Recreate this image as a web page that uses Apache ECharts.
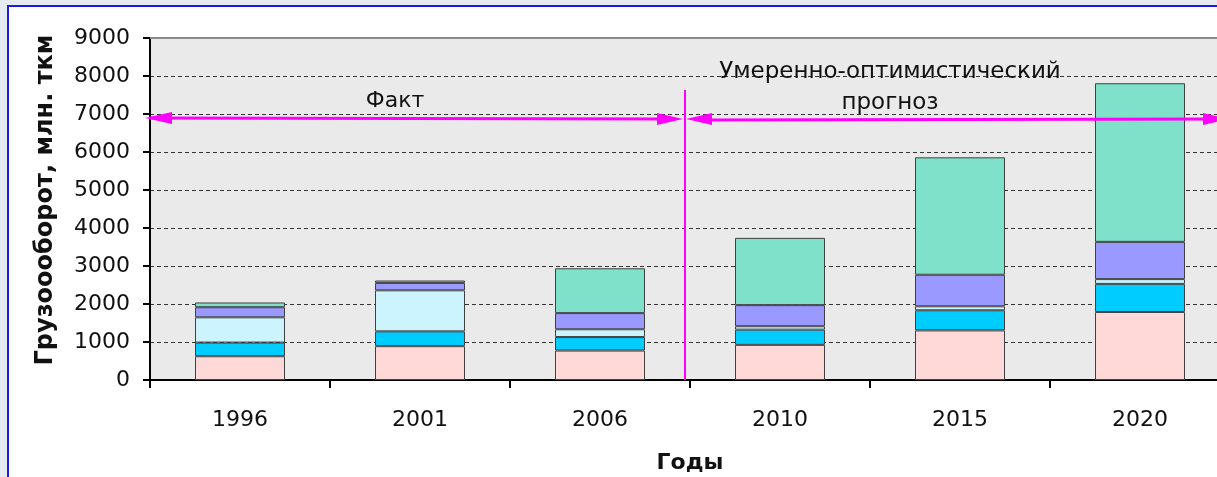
<!DOCTYPE html>
<html>
<head>
<meta charset="utf-8">
<script src="https://cdn.jsdelivr.net/npm/echarts@6/dist/echarts.min.js"></script>
<style>
html,body{margin:0;padding:0;width:1217px;height:477px;overflow:hidden;background:#e6ebf1;}
#frame{position:absolute;left:7px;top:5px;width:1300px;height:600px;border:2px solid #1a1ae6;background:#ffffff;}
#main{position:absolute;left:0;top:0;width:1217px;height:477px;}
</style>
</head>
<body>
<div id="frame"></div>
<div id="main"></div>
<script>
const categories = ['1996', '2001', '2006', '2010', '2015', '2020'];
const seriesPink     = [625, 890, 775, 925, 1305, 1790];
const seriesCyan     = [360, 390, 355, 400, 530, 740];
const seriesLightCyan= [665, 1080, 205, 90, 105, 125];
const seriesLavender = [265, 195, 425, 555, 830, 980];
const seriesTeal     = [125, 63, 1180, 1770, 3090, 4175];
const yTicks = [0, 1000, 2000, 3000, 4000, 5000, 6000, 7000, 8000, 9000];

const colors = ['#FFD8D8', '#00CCFF', '#CCF4FF', '#9999FF', '#7FE1CA'];
const dataSets = [seriesPink, seriesCyan, seriesLightCyan, seriesLavender, seriesTeal];

const FONT = 'DejaVu Sans';
const chart = echarts.init(document.getElementById('main'), null, {renderer: 'canvas'});

const series = dataSets.map((d, i) => ({
  type: 'bar',
  stack: 'total',
  barWidth: '50%',
  data: d,
  itemStyle: {color: colors[i], borderColor: '#404040', borderWidth: 1},
  emphasis: {disabled: true}
}));

const magenta = '#FF00FF';
const arrowY = 118;

chart.setOption({
  backgroundColor: 'transparent',
  animation: false,
  grid: {left: 150, top: 38, width: 1080, height: 342, show: true, backgroundColor: '#EAEAEA', borderWidth: 0, containLabel: false, outerBoundsMode: 'none'},
  xAxis: {
    type: 'category',
    data: categories,
    boundaryGap: true,
    name: 'Годы',
    nameLocation: 'middle',
    nameGap: 72,
    nameTextStyle: {fontFamily: FONT, fontSize: 22, fontWeight: 'bold', color: '#111'},
    axisLine: {lineStyle: {color: '#000', width: 2}},
    axisTick: {show: true, alignWithLabel: false, length: 8, lineStyle: {color: '#000', width: 2}},
    axisLabel: {fontFamily: FONT, fontSize: 22, color: '#111', margin: 29},
    splitLine: {show: false}
  },
  yAxis: {
    type: 'value',
    min: yTicks[0],
    max: yTicks[yTicks.length - 1],
    interval: 1000,
    axisLine: {show: true, lineStyle: {color: '#000', width: 2}},
    axisTick: {show: true, length: 7, lineStyle: {color: '#000', width: 2}},
    axisLabel: {fontFamily: FONT, fontSize: 22, color: '#111', margin: 20, formatter: v => String(v)},
    splitLine: {show: true, lineStyle: {color: '#333', width: 1, type: [4, 3]}}
  },
  series: series,
  graphic: [
    {type: 'text', z: 101, x: 46, y: 200, rotation: Math.PI / 2, style: {text: 'Грузоооборот, млн. ткм', x: 0, y: 0, textAlign: 'center', textVerticalAlign: 'middle', font: 'bold 24px "DejaVu Sans"', fill: '#111'}},
    {type: 'line', z: 100, shape: {x1: 150, y1: 38, x2: 1217, y2: 38}, style: {stroke: '#8a8a8a', lineWidth: 2}},
    {type: 'line', z: 100, shape: {x1: 685, y1: 90, x2: 685, y2: 380}, style: {stroke: magenta, lineWidth: 2}},
    {type: 'line', z: 100, shape: {x1: 150, y1: arrowY, x2: 670, y2: arrowY + 1}, style: {stroke: magenta, lineWidth: 3}},
    {type: 'polygon', z: 100, shape: {points: [[145, arrowY], [172, arrowY - 6], [172, arrowY + 6]]}, style: {fill: magenta}},
    {type: 'polygon', z: 100, shape: {points: [[683, arrowY + 1], [657, arrowY - 5], [657, arrowY + 7]]}, style: {fill: magenta}},
    {type: 'line', z: 100, shape: {x1: 700, y1: arrowY + 2, x2: 1217, y2: arrowY + 1}, style: {stroke: magenta, lineWidth: 3}},
    {type: 'polygon', z: 100, shape: {points: [[686, arrowY + 1], [712, arrowY - 5], [712, arrowY + 7]]}, style: {fill: magenta}},
    {type: 'polygon', z: 100, shape: {points: [[1228, arrowY + 1], [1203, arrowY - 5], [1203, arrowY + 7]]}, style: {fill: magenta}},
    {type: 'text', z: 101, style: {text: 'Факт', x: 395, y: 101, textAlign: 'center', textVerticalAlign: 'middle', font: '22px "DejaVu Sans"', fill: '#111'}},
    {type: 'text', z: 101, style: {text: 'Умеренно-оптимистический', x: 890, y: 72, textAlign: 'center', textVerticalAlign: 'middle', font: '23px "DejaVu Sans"', fill: '#111'}},
    {type: 'text', z: 101, style: {text: 'прогноз', x: 890, y: 103, textAlign: 'center', textVerticalAlign: 'middle', font: '23px "DejaVu Sans"', fill: '#111'}}
  ]
});
</script>
</body>
</html>
